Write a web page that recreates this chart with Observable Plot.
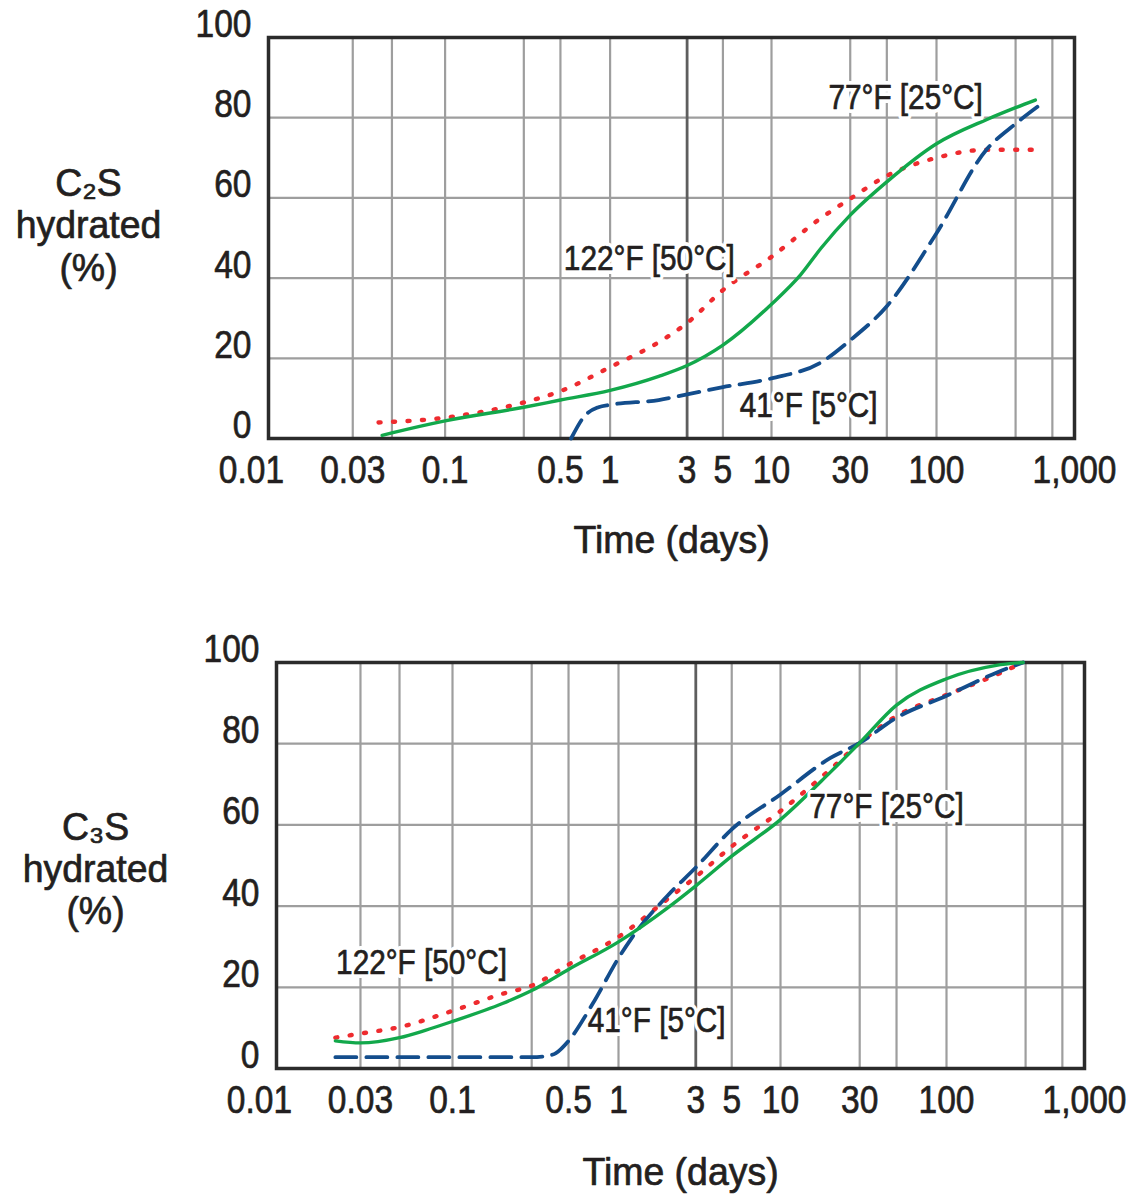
<!DOCTYPE html>
<html>
<head>
<meta charset="utf-8">
<script src="https://cdn.jsdelivr.net/npm/d3@7"></script>
<script src="https://cdn.jsdelivr.net/npm/@observablehq/plot@0.6"></script>
<style>
  body { margin: 0; background: #fff; }
  #charts { width: 1136px; }
  #charts svg { display: block; }
</style>
</head>
<body>
<div id="charts"></div>
<script>
// ---------- shared axis data ----------
const xTickValues = [0.01, 0.03, 0.1, 0.5, 1, 3, 5, 10, 30, 100, 680];
const xTickLabels = ["0.01", "0.03", "0.1", "0.5", "1", "3", "5", "10", "30", "100", "1,000"];
const xGridValues = [0.03, 0.05, 0.1, 0.3, 0.5, 1, 5, 10, 30, 50, 100, 300, 500];
const xMajorGrid = [3];
const xDecades = [0.01, 0.1, 1, 10, 100, 680];
const yTickValues = [0, 20, 40, 60, 80, 100];
const yGridValues = [20, 40, 60, 80];
const xTitle = "Time (days)";

// ---------- C2S chart (top) ----------
const c2sTitle = "C₂S\nhydrated\n(%)";
const c2sDays77 = [0.044, 0.05, 0.1, 0.3, 0.5, 1, 2, 3, 5, 10, 15, 20, 30, 50, 100, 200, 300, 395];
const c2sPct77  = [0.8, 1.4, 4.4, 7.8, 9.6, 12, 15.5, 18.2, 23.3, 33.5, 40.8, 47.5, 55.7, 64, 73.5, 79.5, 82.5, 84.4];
const c2sDays122 = [0.042, 0.1, 0.3, 0.5, 1, 2, 3, 5, 10, 20, 30, 50, 100, 200, 400];
const c2sPct122  = [4, 5.2, 9, 11.8, 17.8, 24, 28.8, 37, 45.3, 55, 59.8, 65.5, 70, 72, 72];
const c2sDays41 = [0.58, 0.7, 0.85, 1, 2, 3, 5, 10, 20, 30, 50, 100, 200, 300, 415];
const c2sPct41  = [0, 5.6, 7.8, 8.4, 9.6, 11, 12.8, 15, 19, 24.5, 33, 51.2, 72, 78.5, 83];
const c2sLabelText = ["77°F [25°C]", "122°F [50°C]", "41°F [5°C]"];
const c2sLabelDays = [65, 1.75, 16.8];
const c2sLabelPct  = [85, 44.9, 8.2];

// ---------- C3S chart (bottom) ----------
const c3sTitle = "C₃S\nhydrated\n(%)";
const c3sDays77 = [0.0216, 0.03, 0.05, 0.07, 0.1, 0.2, 0.3, 0.5, 1, 2, 3, 5, 10, 20, 30, 50, 100, 200, 290];
const c3sPct77  = [6.8, 6.3, 7.6, 9.4, 11.6, 16, 19.2, 24.4, 31.2, 39.5, 45, 52.3, 61.3, 73, 80.2, 89.5, 96, 99.3, 100];
const c3sDays122 = [0.0216, 0.03, 0.05, 0.1, 0.2, 0.3, 0.5, 1, 2, 3, 5, 10, 20, 30, 50, 100, 200, 290];
const c3sPct122  = [7.6, 8.6, 10.2, 14.2, 18.4, 20.4, 25.6, 32.4, 41.7, 47.2, 54.7, 63.4, 73.7, 80.2, 86.8, 92, 97, 100];
const c3sDays41 = [0.0216, 0.1, 0.3, 0.36, 0.42, 0.5, 0.7, 1, 1.2, 2, 3, 5, 10, 20, 30, 50, 100, 200, 290];
const c3sPct41  = [2.8, 2.8, 2.8, 3.0, 3.8, 6.8, 16, 27.2, 32, 42.5, 49.5, 58.9, 67.5, 76.5, 80.2, 86.4, 91.8, 97.5, 100];
const c3sLabelText = ["122°F [50°C]", "41°F [5°C]", "77°F [25°C]"];
const c3sLabelDays = [0.0667, 1.72, 43.5];
const c3sLabelPct  = [26.1, 11.8, 64.5];

// ---------- styling ----------
const fontStack = '"Liberation Sans", Arial, sans-serif';
const textColor = "#231f20";
const ink = {fill: textColor, stroke: textColor, strokeWidth: 0.7};
const seriesStyle = {
  t77:  {stroke: "#12a84b", strokeWidth: 3.4},
  t122: {stroke: "#ee2b2f", strokeWidth: 4.4, strokeDasharray: "2 12.5", strokeLinecap: "round"},
  t41:  {stroke: "#134d8c", strokeWidth: 3.8, strokeDasharray: "21 10"}
};

function rows(days, pct) { return days.map((d, i) => ({days: d, pct: pct[i]})); }

function chart(cfg) {
  const xTicks = xTickValues.map((v, i) => ({v, label: xTickLabels[i]}));
  const labels = cfg.labelText.map((t, i) => ({t, d: cfg.labelDays[i], p: cfg.labelPct[i]}));
  return Plot.plot({
    width: 1136,
    height: cfg.height,
    marginLeft: cfg.marginLeft,
    marginRight: cfg.marginRight,
    marginTop: cfg.marginTop,
    marginBottom: cfg.marginBottom,
    style: {fontFamily: fontStack, color: textColor, background: "#fff", overflow: "visible"},
    x: {type: "log", domain: xDecades, range: cfg.xRange, axis: null},
    y: {domain: [0, 100], axis: null},
    marks: [
      Plot.ruleY(yGridValues, {stroke: "#9e9e9e", strokeWidth: 2.2}),
      Plot.ruleX(xGridValues, {stroke: "#9e9e9e", strokeWidth: 2.2}),
      Plot.ruleX(xMajorGrid, {stroke: "#5e5e5e", strokeWidth: 2.8}),
      Plot.frame({stroke: "#2b2b2b", strokeWidth: 3.5}),
      Plot.line(rows(cfg.d122, cfg.p122), {x: "days", y: "pct", curve: "monotone-x", ...seriesStyle.t122}),
      Plot.line(rows(cfg.d41, cfg.p41), {x: "days", y: "pct", curve: "monotone-x", ...seriesStyle.t41}),
      Plot.line(rows(cfg.d77, cfg.p77), {x: "days", y: "pct", curve: "monotone-x", ...seriesStyle.t77}),
      // series labels: white knock-out, then the ink
      Plot.text(labels, {x: "d", y: "p", text: "t", fontSize: 35, fill: "white", stroke: "white", strokeWidth: 8}),
      Plot.text(labels, {x: "d", y: "p", text: "t", fontSize: 35, ...ink}),
      // x tick labels
      Plot.text(xTicks.slice(0, 1), {x: "v", text: "label", frameAnchor: "bottom", lineAnchor: "middle", dy: 32, dx: -17, fontSize: 39, ...ink}),
      Plot.text(xTicks.slice(1), {x: "v", text: "label", frameAnchor: "bottom", lineAnchor: "middle", dy: 32, fontSize: 39, ...ink}),
      // y tick labels
      Plot.text(yTickValues, {y: d => d, text: d => String(d), frameAnchor: "left", textAnchor: "end", lineAnchor: "middle", dx: -17, dy: -13, fontSize: 39, ...ink}),
      // axis titles
      Plot.text([xTitle], {text: d => d, frameAnchor: "bottom", lineAnchor: "middle", dy: cfg.xTitleDy, fontSize: 39, ...ink}),
      Plot.text([cfg.title], {text: d => d, frameAnchor: "left", textAnchor: "middle", lineAnchor: "middle", lineHeight: 1.08, dx: cfg.titleDx, dy: cfg.titleDy, fontSize: 39, ...ink})
    ]
  });
}

// narrow the glyphs horizontally (the reference uses a condensed face)
function condense(svg) {
  svg.querySelectorAll("text").forEach(el => {
    const s = el.textContent;
    const k = /^[\d.,]+$/.test(s) ? 0.86 : /°/.test(s) ? 0.85 : 0.96;
    let tr = el.getAttribute("transform");
    if (!tr) {
      const x = +(el.getAttribute("x") || 0), y = +(el.getAttribute("y") || 0);
      el.removeAttribute("x"); el.removeAttribute("y");
      tr = `translate(${x},${y})`;
    }
    el.setAttribute("transform", `${tr} scale(${k},1)`);
  });
  return svg;
}

const root = document.getElementById("charts");
root.appendChild(condense(chart({
  height: 580, marginLeft: 268, marginRight: 62, marginTop: 37, marginBottom: 142,
  xRange: [268, 444.6, 609.6, 771, 936, 1074],
  title: c2sTitle, titleDx: -180, titleDy: -13, xTitleDy: 102,
  d77: c2sDays77, p77: c2sPct77, d122: c2sDays122, p122: c2sPct122, d41: c2sDays41, p41: c2sPct41,
  labelText: c2sLabelText, labelDays: c2sLabelDays, labelPct: c2sLabelPct
})));
root.appendChild(condense(chart({
  height: 615, marginLeft: 276, marginRight: 52, marginTop: 82, marginBottom: 127,
  xRange: [276, 452, 618, 780, 946, 1084],
  title: c3sTitle, titleDx: -181, titleDy: 3, xTitleDy: 104,
  d77: c3sDays77, p77: c3sPct77, d122: c3sDays122, p122: c3sPct122, d41: c3sDays41, p41: c3sPct41,
  labelText: c3sLabelText, labelDays: c3sLabelDays, labelPct: c3sLabelPct
})));
</script>
</body>
</html>
